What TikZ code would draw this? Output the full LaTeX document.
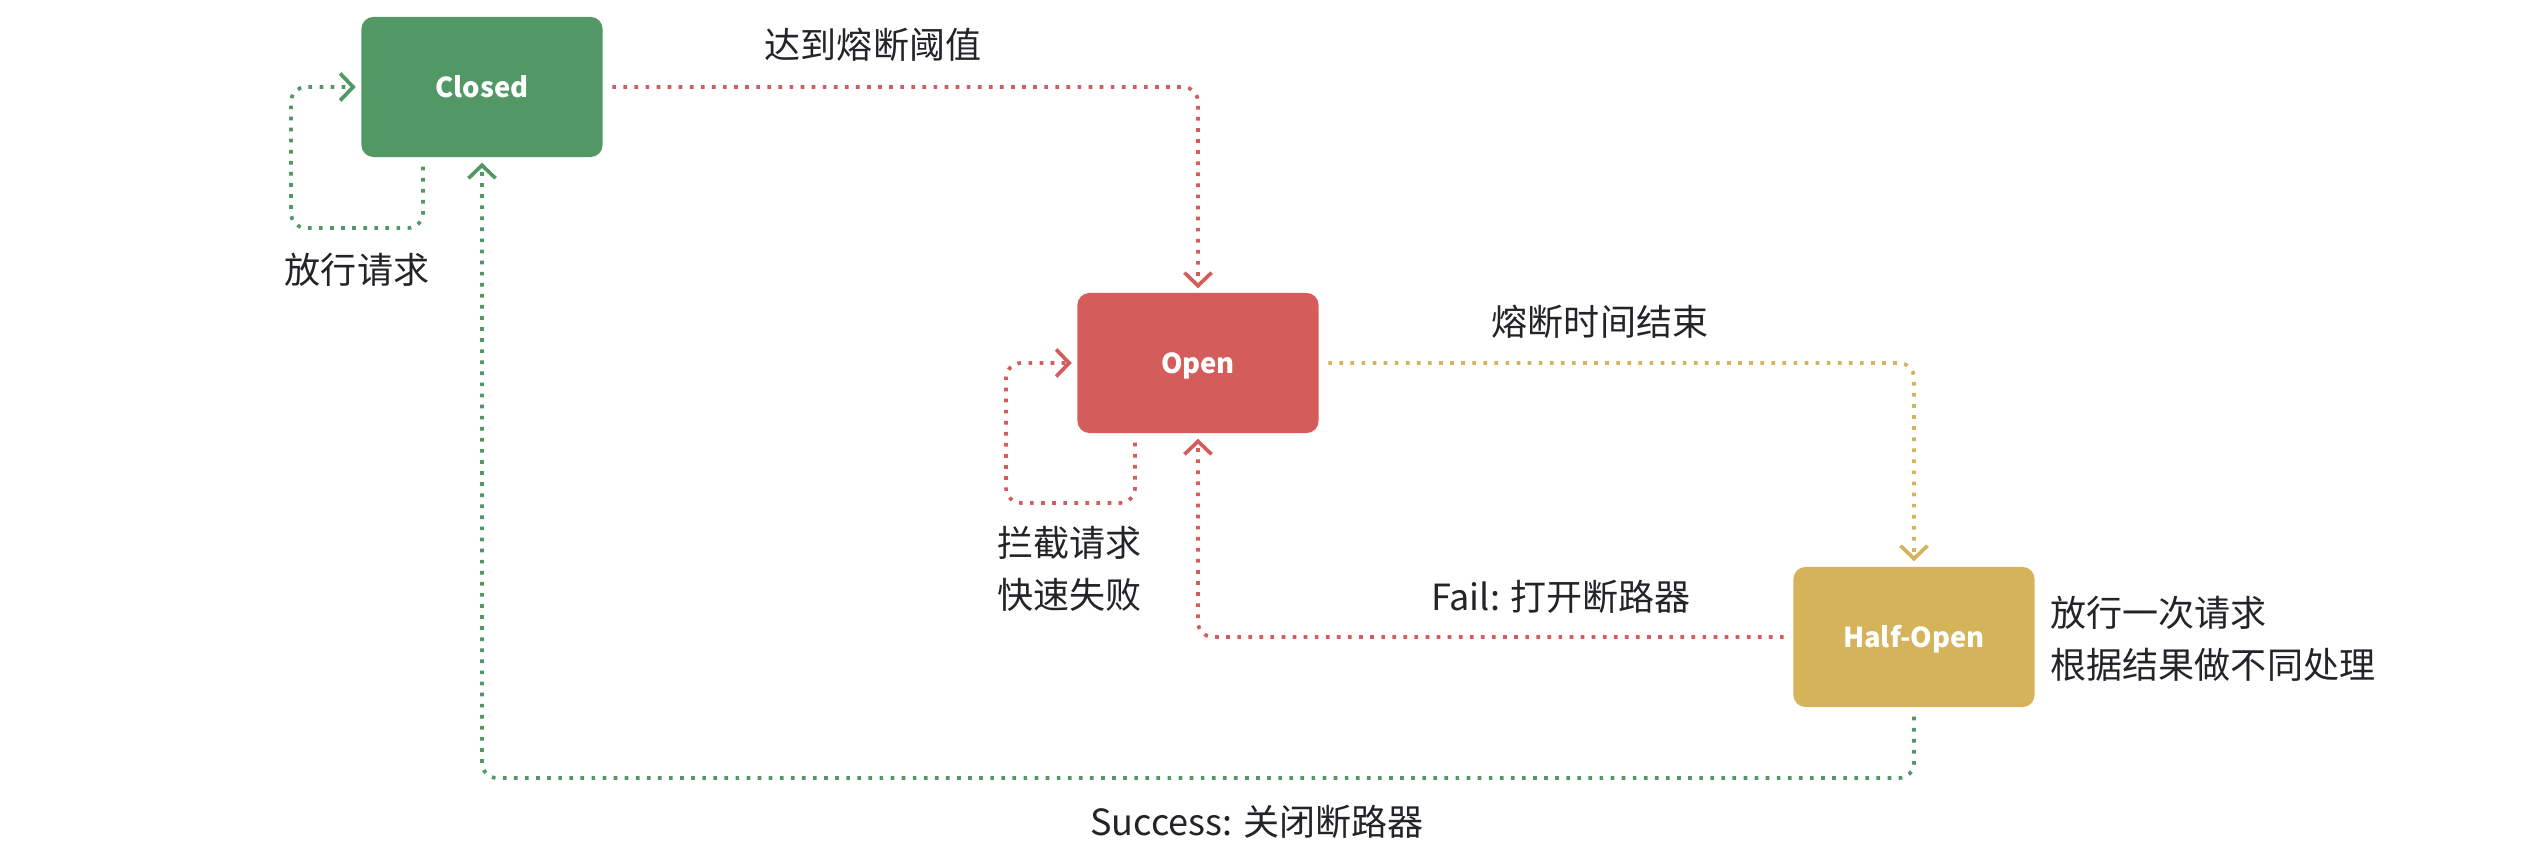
\documentclass[tikz,border=0pt]{standalone}
\usepackage{fontspec}
\setmainfont{Noto Sans CJK SC}
\usepackage{tikz}
\usetikzlibrary{
  arrows.meta,
  calc
}
\definecolor{closedgreen}{RGB}{81,152,100}
\definecolor{openred}{RGB}{212,93,92}
\definecolor{halfyellow}{RGB}{213,179,90}
\definecolor{notegray}{RGB}{35,36,40}
\tikzset{
  statebox/.style={rounded corners=0.12cm, inner sep=0pt,
    minimum width=2.41cm, minimum height=1.4cm,
    text height=6pt, text depth=0pt,
    text=white, font=\fontsize{7.8}{9}\selectfont\bfseries},
  closedbox/.style={statebox, fill=closedgreen},
  openbox/.style={statebox, fill=openred},
  halfbox/.style={statebox, fill=halfyellow},
  flow/.style={line width=1.05pt, dash pattern=on 1.05pt off 2.1pt,
    rounded corners=0.15cm,
    -{Straight Barb[length=0.13cm, width=0.27cm, line width=1.05pt]}},
  note/.style={text=notegray, align=left, inner sep=0pt,
    font=\fontsize{10.25}{14.8}\selectfont},
}

\begin{document}
\begin{tikzpicture}[x=0.01cm, y=-0.01cm]
  \useasboundingbox (0,0) rectangle (2536,852);

  % States
  \node[closedbox] (closed) at (482,87) {Closed};
  \node[openbox] (open) at (1198,363) {Open};
  \node[halfbox] (half) at (1914,637) {Half-Open};

  % Closed: let requests through
  \draw[flow, closedgreen] ($(closed.south)+(-59,9)$) |- (291,228)
    |- ($(closed.west)+(-5,0)$);
  \node[note] (passlbl) at (357,270) {放行请求};

  % Closed -> Open
  \draw[flow, openred] ($(closed.east)+(9,0)$) -| ($(open.north)+(0,-4)$);
  \node[note] (triplbl) at (873,45) {达到熔断阈值};

  % Open: reject requests
  \draw[flow, openred] ($(open.south)+(-63,9)$) |- (1006,503)
    |- ($(open.west)+(-5,0)$);
  \node[note, anchor=west] (rejectlbl) at (997,569) {拦截请求\\快速失败};

  % Open -> Half-Open
  \draw[flow, halfyellow] ($(open.east)+(9,0)$) -| ($(half.north)+(0,-5)$);
  \node[note] (timeoutlbl) at (1600,322) {熔断时间结束};

  % Half-Open -> Open
  \draw[flow, openred] ($(half.west)+(-9,0)$) -| ($(open.south)+(0,5)$);
  \node[note] (faillbl) at (1561,597) {Fail: 打开断路器};

  % Half-Open -> Closed
  \coordinate (succbot) at (0,778);
  \draw[flow, closedgreen] ($(half.south)+(0,9)$) |- (closed.south |- succbot)
    -- ($(closed.south)+(0,5)$);
  \node[note] (succlbl) at (1257,822) {Success: 关闭断路器};

  % Side annotation
  \node[note, anchor=west] (probelbl) at (2050,639)
    {放行一次请求\\根据结果做不同处理};
\end{tikzpicture}
\end{document}
